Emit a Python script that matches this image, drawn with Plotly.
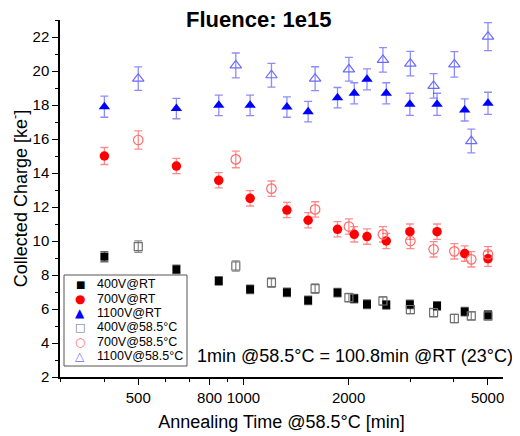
import plotly.graph_objects as go

# ---- data ----
x_rt = [400, 643, 850, 1045, 1332, 1532, 1859, 2076, 2258, 2564, 2995, 3583, 4299, 5013]
y400_rt = [9.08, 8.33, 7.65, 7.16, 6.98, 6.51, 6.96, 6.61, 6.28, 6.24, 6.27, 6.18, 5.84, 5.65]
e400_rt = [0.3, 0.25, 0.25, 0.25, 0.25, 0.25, 0.25, 0.25, 0.25, 0.25, 0.25, 0.25, 0.25, 0.25]
y700_rt = [15.0, 14.41, 13.57, 12.51, 11.82, 11.22, 10.69, 10.39, 10.26, 10.0, 10.55, 10.55, 9.26, 8.96]
e700_rt = [0.5, 0.45, 0.45, 0.45, 0.45, 0.45, 0.45, 0.45, 0.45, 0.45, 0.45, 0.45, 0.45, 0.45]
y1100_rt = [17.9, 17.79, 17.98, 17.98, 17.88, 17.61, 18.43, 18.69, 19.51, 18.69, 18.04, 18.04, 17.71, 18.1]
e1100_rt = [0.62, 0.6, 0.6, 0.6, 0.6, 0.6, 0.6, 0.62, 0.62, 0.62, 0.65, 0.65, 0.65, 0.65]

x_585 = [500, 951, 1203, 1604, 2004, 2508, 3005, 3502, 4016, 4490, 5013]
y400_585 = [9.67, 8.53, 7.55, 7.2, 6.67, 6.47, 5.97, 5.79, 5.44, 5.59, 5.6]
e400_585 = [0.34, 0.3, 0.28, 0.28, 0.25, 0.25, 0.25, 0.25, 0.25, 0.25, 0.25]
y700_585 = [15.94, 14.8, 13.08, 11.86, 10.85, 10.39, 10.0, 9.51, 9.39, 8.92, 9.22]
e700_585 = [0.54, 0.49, 0.45, 0.45, 0.45, 0.45, 0.45, 0.45, 0.45, 0.45, 0.45]
y1100_585 = [19.55, 20.33, 19.75, 19.55, 20.1, 20.65, 20.43, 19.12, 20.39, 15.88, 22.02]
e1100_585 = [0.69, 0.73, 0.7, 0.7, 0.7, 0.72, 0.72, 0.72, 0.75, 0.7, 0.82]

x_ticks = [500, 800, 1000, 2000, 5000]
x_minor = [300, 400, 600, 700, 900, 3000, 4000]
y_ticks = [2, 4, 6, 8, 10, 12, 14, 16, 18, 20, 22]

FONT = "Liberation Sans, Arial, sans-serif"
SYMFONT = "DejaVu Sans, sans-serif"

# name, x, y, err, symbol, colour, size, error colour, legend glyph, glyph size
series = [
    ("400V@RT", x_rt, y400_rt, e400_rt, "square", "black", 8, "rgba(0,0,0,0.6)", "■", 10),
    ("700V@RT", x_rt, y700_rt, e700_rt, "circle", "#ff0000", 9.5, "rgba(255,0,0,0.45)", "●", 12),
    ("1100V@RT", x_rt, y1100_rt, e1100_rt, "triangle-up", "#0000ff", 10, "rgba(0,0,255,0.45)", "▲", 12),
    ("400V@58.5°C", x_585, y400_585, e400_585, "square-open", "#707070", 8, "rgba(0,0,0,0.45)", "□", 11),
    ("700V@58.5°C", x_585, y700_585, e700_585, "circle-open", "#ff6a6a", 9.5, "rgba(255,0,0,0.45)", "○", 12),
    ("1100V@58.5°C", x_585, y1100_585, e1100_585, "triangle-up-open", "#6a6aff", 10, "rgba(0,0,255,0.45)", "△", 12),
]

fig = go.Figure()
for name, xs, ys, es, sym, col, size, ecol, glyph, gsize in series:
    fig.add_trace(go.Scatter(
        x=xs, y=ys, name=name, mode="markers", showlegend=False,
        marker=dict(symbol=sym, color=col, size=size,
                    line=dict(color=col, width=1.2 if "open" in sym else 0)),
        error_y=dict(type="data", array=es, visible=True, color=ecol, thickness=1.3, width=4),
    ))

# The page body has an 8px margin, so the figure is drawn 8px right/down.
PAGE_OFF = 8
W, H = 520 - PAGE_OFF, 436 - PAGE_OFF
ML, MR, MT, MB = 60 - PAGE_OFF, 17, 20 - PAGE_OFF, 59
plot_w = W - ML - MR
plot_h = H - MT - MB
X0, Y1 = 60, 377  # plot area left / bottom in page pixels

def px_x(p):
    return (p - X0) / plot_w
def px_y(p):
    return (Y1 - p) / plot_h

# ---- compact legend box (like the original) ----
annotations = []
shapes = [dict(type="rect", xref="paper", yref="paper",
               x0=px_x(64), x1=px_x(187), y0=px_y(366), y1=px_y(275),
               fillcolor="white", line=dict(color="#555555", width=1), layer="above")]
row_y0, row_dy = 284.3, 14.35
for i, (name, xs, ys, es, sym, col, size, ecol, glyph, gsize) in enumerate(series):
    yy = px_y(row_y0 + i * row_dy)
    annotations.append(dict(text=glyph, x=px_x(80), y=yy, xref="paper", yref="paper",
                            xanchor="center", yanchor="middle", showarrow=False, borderpad=0,
                            font=dict(size=gsize, family=SYMFONT, color=col)))
    annotations.append(dict(text=name, x=px_x(96), y=yy, xref="paper", yref="paper",
                            xanchor="left", yanchor="middle", showarrow=False, borderpad=0,
                            font=dict(size=12.5, family=FONT, color="black")))

annotations.append(dict(text="<b>Fluence: 1e15</b>", x=px_x(258.5), xref="paper", y=1.0, yref="paper",
                        xanchor="center", yanchor="middle", yshift=1, showarrow=False,
                        font=dict(size=22, family=FONT, color="black")))
annotations.append(dict(text="1min @58.5°C = 100.8min @RT (23°C)", x=px_x(196), xref="paper",
                        y=px_y(355.5), yref="paper", xanchor="left", yanchor="middle", showarrow=False,
                        borderpad=0, font=dict(size=18, family=FONT, color="black")))

fig.update_layout(
    width=W, height=H,
    margin=dict(l=ML, r=MR, t=MT, b=MB, autoexpand=False),
    paper_bgcolor="white", plot_bgcolor="white",
    font=dict(family=FONT, color="black"),
    showlegend=False,
    xaxis=dict(
        type="log", range=[2.475, 3.743], automargin=False,
        tickmode="array", tickvals=x_ticks, ticktext=[str(v) for v in x_ticks],
        ticks="outside", ticklen=6, tickwidth=1.2, tickcolor="black",
        minor=dict(tickmode="array", tickvals=x_minor, ticks="outside", ticklen=3,
                   tickcolor="black", showgrid=False),
        showline=True, linecolor="black", linewidth=1.5, mirror=False,
        showgrid=False, zeroline=False,
        tickfont=dict(size=15, family=FONT),
        title=dict(text="Annealing Time @58.5°C [min]", font=dict(size=18, family=FONT), standoff=11),
    ),
    yaxis=dict(
        range=[2, 23], automargin=False,
        tickmode="array", tickvals=y_ticks,
        ticks="outside", ticklen=6, tickwidth=1.2, tickcolor="black",
        minor=dict(dtick=1, tick0=0, ticks="outside", ticklen=3, tickcolor="black", showgrid=False),
        showline=True, linecolor="black", linewidth=1.5, mirror=False,
        showgrid=False, zeroline=False,
        tickfont=dict(size=15, family=FONT),
        title=dict(text="Collected Charge [ke<sup>-</sup>]", font=dict(size=18, family=FONT), standoff=8),
    ),
    annotations=annotations,
    shapes=shapes,
)

fig.write_html("out.html")
